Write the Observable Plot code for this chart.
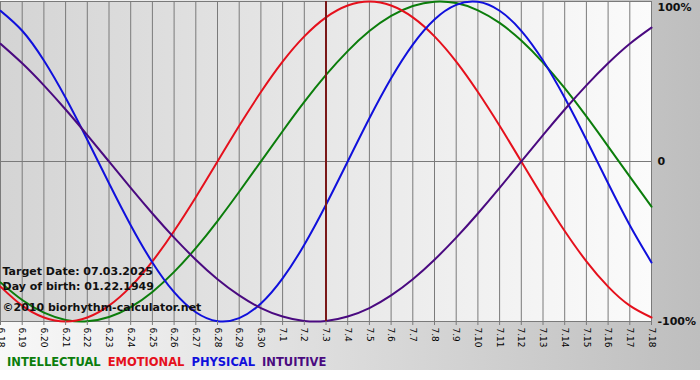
<!DOCTYPE html>
<html>
<head>
<meta charset="utf-8">
<script src="https://cdn.jsdelivr.net/npm/d3@7"></script>
<script src="https://cdn.jsdelivr.net/npm/@observablehq/plot@0.6"></script>
<style>
  body { margin: 0; background: #ffffff; }
  #wrap { width: 700px; height: 370px; background: linear-gradient(to right, #f8f8f8, #bebebe); overflow: hidden; }
  #chart svg { display: block; background: transparent; }
  #legend { height: 18px; box-sizing: border-box; padding: 3px 0 0 7px; font: bold 11.5px "DejaVu Sans", sans-serif; line-height: 14px; white-space: nowrap; }
  #legend span { margin-right: 7px; }
</style>
</head>
<body>
<div id="wrap">
  <div id="chart"></div>
  <div id="legend"></div>
</div>
<script>
// Day labels (x axis)
const days = ["6.18","6.19","6.20","6.21","6.22","6.23","6.24","6.25","6.26","6.27","6.28","6.29","6.30",
  "7.1","7.2","7.3","7.4","7.5","7.6","7.7","7.8","7.9","7.10","7.11","7.12","7.13","7.14","7.15","7.16","7.17","7.18"];
const targetDay = "7.3";

// Series values (-1 = -100%, 1 = 100%)
const intellectual = [-0.756,-0.866,-0.945,-0.990,-0.999,-0.972,-0.910,-0.815,-0.690,-0.541,-0.372,-0.189,0.000,
  0.189,0.372,0.541,0.690,0.815,0.910,0.972,0.999,0.990,0.945,0.866,0.756,0.618,0.458,0.282,0.095,-0.095,-0.282];
const emotional = [-0.782,-0.901,-0.975,-1.000,-0.975,-0.901,-0.782,-0.624,-0.434,-0.223,0.000,0.223,0.434,
  0.624,0.782,0.901,0.975,1.000,0.975,0.901,0.782,0.624,0.434,0.223,0.000,-0.223,-0.434,-0.624,-0.782,-0.901,-0.975];
const physical = [0.942,0.817,0.631,0.398,0.136,-0.136,-0.398,-0.631,-0.817,-0.942,-0.998,-0.979,-0.888,
  -0.731,-0.520,-0.270,0.000,0.270,0.520,0.731,0.888,0.979,0.998,0.942,0.817,0.631,0.398,0.136,-0.136,-0.398,-0.631];
const intuitive = [0.736,0.614,0.476,0.325,0.165,0.000,-0.165,-0.325,-0.476,-0.614,-0.736,-0.837,-0.916,
  -0.969,-0.997,-0.997,-0.969,-0.916,-0.837,-0.736,-0.614,-0.476,-0.325,-0.165,0.000,0.165,0.325,0.476,0.614,0.736,0.837];

const seriesNames = ["INTELLECTUAL","EMOTIONAL","PHYSICAL","INTUITIVE"];
const seriesColors = ["#0b7d0b","#e5101c","#1010dc","#4a0a80"];
const yTicks = [-1, 0, 1];
const yTickLabels = ["-100%", "0", "100%"];
const notes = ["Target Date: 07.03.2025", "Day of birth: 01.22.1949", "©2010 biorhythm-calculator.net"];

const allSeries = [intellectual, emotional, physical, intuitive];
const idx = d3.range(days.length);
const targetIndex = days.indexOf(targetDay);
const fontFam = "DejaVu Sans, sans-serif";

const lineMarks = allSeries.map((vals, s) =>
  Plot.line(idx, {x: i => i, y: i => vals[i], stroke: seriesColors[s], strokeWidth: 2, curve: "natural"})
);

const yFmt = v => yTickLabels[yTicks.indexOf(v)];

const chart = Plot.plot({
  width: 700,
  height: 352,
  marginLeft: 0,
  marginRight: 49,
  marginTop: 1,
  marginBottom: 31,
  style: {fontFamily: fontFam, background: "transparent"},
  x: {domain: [0, days.length - 1], label: null},
  y: {domain: [-1, 1], label: null},
  marks: [
    Plot.frame({fill: "url(#plotbg)"}),
    Plot.ruleX(idx, {stroke: "#7a7a7a", strokeWidth: 1}),
    Plot.ruleY([0], {stroke: "#7a7a7a", strokeWidth: 1}),
    Plot.frame({stroke: "#7a7a7a"}),
    ...lineMarks,
    Plot.ruleX([targetIndex], {stroke: "#7a1818", strokeWidth: 2}),
    Plot.axisX(idx, {anchor: "bottom", tickRotate: 90, tickSize: 4, tickPadding: 2, stroke: "#7a7a7a",
      tickFormat: i => days[i], fontSize: 9, fill: "#000", label: null}),
    Plot.axisY([0, -1], {anchor: "right", tickSize: 0, tickPadding: 6, tickFormat: yFmt,
      fontSize: 11, fontWeight: "bold", fill: "#111", textAnchor: "start", label: null}),
    Plot.axisY([1], {anchor: "right", tickSize: 0, tickPadding: 6, tickFormat: yFmt, dy: 6,
      fontSize: 11, fontWeight: "bold", fill: "#111", textAnchor: "start", label: null}),
    Plot.text([notes[0]], {frameAnchor: "bottom-left", text: d => d, dx: 2, dy: -50, lineAnchor: "middle",
      textAnchor: "start", fontSize: 11, fontWeight: "bold", fill: "#111"}),
    Plot.text([notes[1]], {frameAnchor: "bottom-left", text: d => d, dx: 2, dy: -35, lineAnchor: "middle",
      textAnchor: "start", fontSize: 11, fontWeight: "bold", fill: "#111"}),
    Plot.text([notes[2]], {frameAnchor: "bottom-left", text: d => d, dx: 2, dy: -14, lineAnchor: "middle",
      textAnchor: "start", fontSize: 11, fontWeight: "bold", fill: "#111"})
  ]
});

d3.select(chart).insert("defs", ":first-child").html(
  '<linearGradient id="plotbg" x1="0" x2="1" y1="0" y2="0">' +
  '<stop offset="0" stop-color="#d4d4d4"/><stop offset="1" stop-color="#fbfbfb"/></linearGradient>'
);
document.getElementById("chart").appendChild(chart);

const legend = d3.select("#legend");
seriesNames.forEach((n, s) => legend.append("span").style("color", seriesColors[s]).text(n));
</script>
</body>
</html>
